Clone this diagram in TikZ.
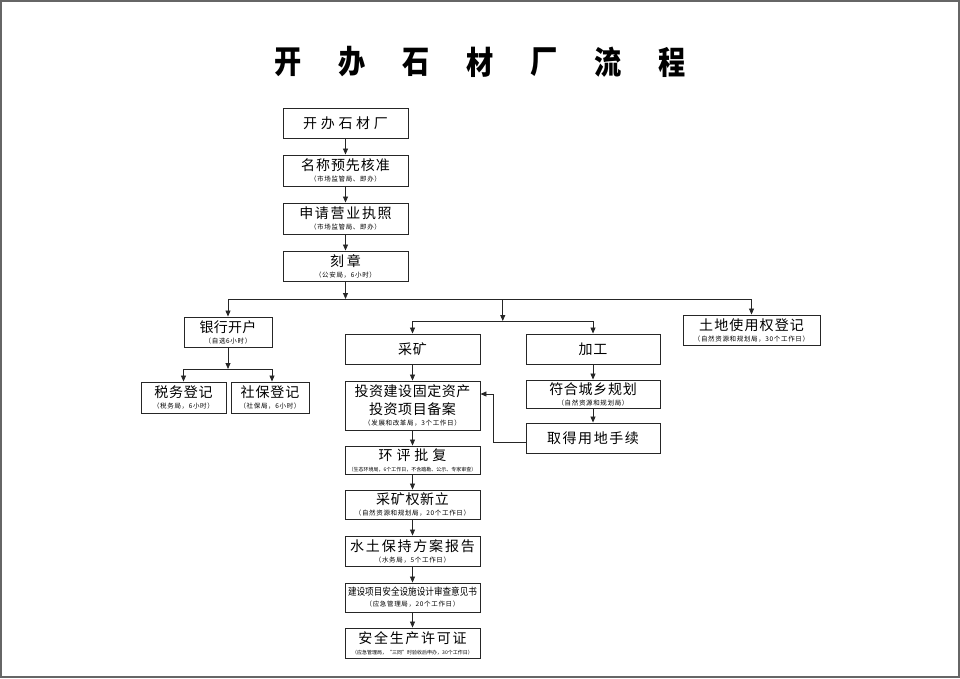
\documentclass[tikz,border=0pt]{standalone}
\usepackage{fontspec}
\newfontfamily\cjk{Noto Sans CJK SC}
\usetikzlibrary{arrows.meta}
\begin{document}
\begin{tikzpicture}[x=1pt,y=-1pt,
  box/.style={draw=black!85, line width=0.9pt, inner sep=0pt, align=center, font=\cjk},
  arr/.style={draw=black!85, line width=0.8pt, -{Triangle[length=6pt,width=5pt]}},
  ln/.style={draw=black!85, line width=0.8pt},
  ttl/.style={font=\cjk\bfseries\fontsize{32}{32}\selectfont, transform shape, xscale=0.85, inner sep=0pt}]
\useasboundingbox (0,0) rectangle (960,678);
\draw[black!60, line width=2pt] (1,1) rectangle (959,677);
% title
\foreach \c [count=\i from 0] in {开,办,石,材,厂,流,程}
  \node[ttl] (t\i) at (288+64*\i,62) {\c};
\newcommand{\bx}[6]{\node[box, minimum width=#4pt, minimum height=#5pt] (#1) at (#2,#3) {#6};}
\newcommand{\bg}[2][6]{{\fontsize{14}{15}\selectfont\addfontfeature{LetterSpace=#1}#2}}
\newcommand{\sml}[1]{{\fontsize{6.5}{7}\selectfont\addfontfeature{LetterSpace=10}#1}}
\newcommand{\tny}[1]{{\fontsize{5}{6}\selectfont #1}}
\bx{n1}{345.5}{123}{125}{30}{\bg[26]{开办石材厂}}
\bx{n2}{345.5}{170.5}{125}{31}{\bg[7]{名称预先核准}\\[-1pt]\sml{（市场监管局、即办）}}
\bx{n3}{345.5}{218.5}{125}{31}{\bg[12]{申请营业执照}\\[-1pt]\sml{（市场监管局、即办）}}
\bx{n4}{345.5}{266}{125}{30}{\bg[18]{刻章}\\[-1pt]\sml{（公安局，6小时）}}
\bx{bank}{228}{332}{88}{30}{\bg[2]{银行开户}\\[-1pt]\sml{（自选6小时）}}
\bx{tax}{183.5}{397.5}{85}{31}{\bg[5]{税务登记}\\[-1pt]\sml{（税务局，6小时）}}
\bx{soc}{270}{397.5}{78}{31}{\bg[6]{社保登记}\\[-1pt]\sml{（社保局，6小时）}}
\bx{land}{751.5}{330}{137}{30}{\bg[8]{土地使用权登记}\\[-1pt]\sml{（自然资源和规划局，30个工作日）}}
\bx{mine}{412.5}{349}{135}{30}{\bg[4]{采矿}}
\bx{proc}{593}{349}{134}{30}{\bg[4]{加工}}
\bx{inv}{412.5}{405.5}{135}{49}{\bg[4]{投资建设固定资产}\\[4pt]\bg[4]{投资项目备案}\\[-1pt]\sml{（发展和改革局，3个工作日）}}
\bx{env}{412.5}{460}{135}{28}{\bg[28]{环评批复}\\[-1pt]\tny{（生态环境局，6个工作日，不含踏勘、公示、专家审查）}}
\bx{right}{412.5}{504.5}{135}{29}{\bg[5]{采矿权新立}\\[-1pt]\sml{（自然资源和规划局，20个工作日）}}
\bx{water}{412.5}{551}{135}{30}{\bg[13]{水土保持方案报告}\\[-1pt]\sml{（水务局，5个工作日）}}
\bx{design}{412.5}{597.5}{135}{29}{\scalebox{0.86}[1]{\fontsize{10}{12}\selectfont 建设项目安全设施设计审查意见书}\\[-1pt]\sml{（应急管理局，20个工作日）}}
\bx{safe}{412.5}{643}{135}{30}{\bg[12]{安全生产许可证}\\[-1pt]\tny{（应急管理局，“三同”时验收后申办，30个工作日）}}
\bx{plan}{593}{394}{134}{28}{\bg[5]{符合城乡规划}\\[-1pt]\sml{（自然资源和规划局）}}
\bx{land2}{593}{438}{134}{30}{\bg[11]{取得用地手续}}
% bus coordinates
\coordinate (b1) at (345.5,299);
\coordinate (b1l) at (228,299);
\coordinate (b1r) at (751.5,299);
\coordinate (b1m) at (502.75,299);
\coordinate (b2) at (502.75,321);
\coordinate (b2l) at (412.5,321);
\coordinate (b2r) at (593,321);
\coordinate (b3) at (228,369);
\coordinate (b3l) at (183.5,369);
\coordinate (b3r) at (272,369);
\coordinate (j1) at (493,442);
\coordinate (j2) at (493,394);
% connectors
\draw[arr] (n1) -- (n2);
\draw[arr] (n2) -- (n3);
\draw[arr] (n3) -- (n4);
\draw[arr] (n4) -- (b1);
\draw[ln] (b1l) -- (b1r);
\draw[arr] (b1l) -- (bank);
\draw[arr] (b1r) -- (land);
\draw[arr] (b1m) -- (b2);
\draw[ln] (b2l) -- (b2r);
\draw[arr] (b2l) -- (mine);
\draw[arr] (b2r) -- (proc);
\draw[arr] (bank) -- (b3);
\draw[ln] (b3l) -- (b3r);
\draw[arr] (b3l) -- (tax.north);
\draw[arr] (b3r) -- (b3r |- soc.north);
\draw[arr] (mine) -- (inv);
\draw[arr] (inv) -- (env);
\draw[arr] (env) -- (right);
\draw[arr] (right) -- (water);
\draw[arr] (water) -- (design);
\draw[arr] (design) -- (safe);
\draw[arr] (proc) -- (plan);
\draw[arr] (plan) -- (land2);
\draw[arr] (land2.west |- j1) -- (j1) -- (j2) -- (inv.east |- j2);
\end{tikzpicture}
\end{document}
